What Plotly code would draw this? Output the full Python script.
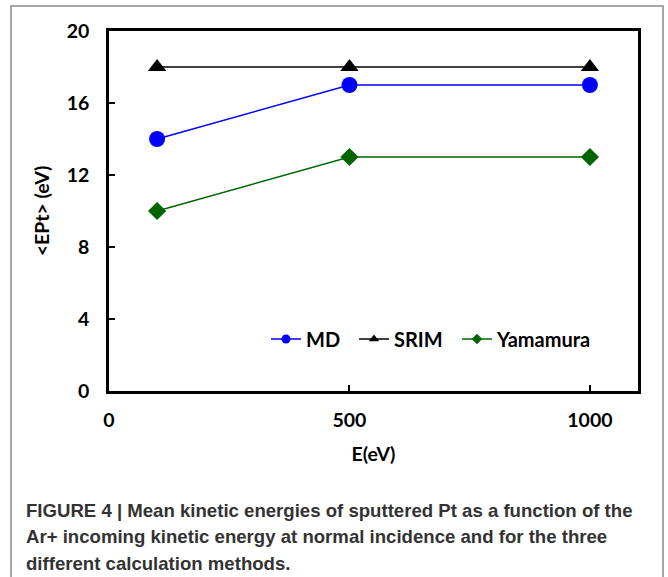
import plotly.graph_objects as go

energies = [100, 500, 1000]
md_values = [14, 17, 17]
srim_values = [18, 18, 18]
yamamura_values = [10, 13, 13]
x_ticks = [0, 500, 1000]
y_ticks = [0, 4, 8, 12, 16, 20]
caption_lines = [
    "FIGURE 4 | Mean kinetic energies of sputtered Pt as a function of the",
    "Ar+ incoming kinetic energy at normal incidence and for the three",
    "different calculation methods.",
]

FONT = "Lato, Carlito, Open Sans, sans-serif"

series = [
    ("MD", md_values, "#0000ff", "circle", 16, 9, "legend", 266),
    ("SRIM", srim_values, "#000000", "triangle-up", 16, 9, "legend2", 354),
    ("Yamamura", yamamura_values, "#006400", "diamond", 14, 8, "legend3", 457),
]

L, R, T, B = 109, 30, 31, 186
W, H = 668, 577
pw, ph = W - L - R, H - T - B

def px(x):
    return (x - L) / pw

def py(y):
    return (H - B - y) / ph

fig = go.Figure()
for name, vals, color, sym, size, lsize, leg, lx in series:
    fig.add_trace(go.Scatter(x=energies, y=vals, name=name, mode="lines+markers",
                             showlegend=False,
                             line=dict(color=color, width=1.5),
                             marker=dict(symbol=sym, size=size, color=color)))
legends = {}
for name, vals, color, sym, size, lsize, leg, lx in series:
    fig.add_trace(go.Scatter(x=[None], y=[None], name=name, mode="lines+markers",
                             showlegend=True, legend=leg,
                             line=dict(color=color, width=1.5),
                             marker=dict(symbol=sym, size=lsize, color=color)))
    legends[leg] = dict(orientation="h", x=px(lx), y=py(339), xanchor="left", yanchor="middle",
                        bgcolor="rgba(0,0,0,0)", font=dict(size=20, family=FONT, weight="bold"),
                        itemwidth=30)

fig.update_layout(
    width=W, height=H,
    margin=dict(l=L, r=R, t=T, b=B),
    paper_bgcolor="white", plot_bgcolor="white",
    font=dict(family=FONT, color="black", size=18),
    showlegend=True,
    xaxis=dict(range=[0, 1100], tickvals=x_ticks, ticks="inside", ticklen=6, tickwidth=2,
               tickcolor="black", showline=True, linecolor="black", linewidth=2.5,
               mirror=True, showgrid=False, zeroline=False, ticklabelstandoff=10,
               tickfont=dict(family=FONT, size=19.5, weight="bold"),
               title=dict(text="E(eV)", font=dict(family=FONT, size=19.5, weight="bold"), standoff=18)),
    yaxis=dict(range=[0, 20], tickvals=y_ticks, ticks="inside", ticklen=6, tickwidth=2,
               tickcolor="black", showline=True, linecolor="black", linewidth=2.5,
               mirror=True, showgrid=False, zeroline=False, ticklabelstandoff=13,
               tickfont=dict(family=FONT, size=19.5, weight="bold"),
               title=dict(text="&lt;EPt&gt; (eV)", font=dict(family=FONT, size=19.5, weight="bold"), standoff=12)),
    **legends,
)

# outer frame of the figure panel
fig.add_shape(type="rect", xref="paper", yref="paper",
              x0=px(11), x1=px(663), y0=py(600), y1=py(6),
              line=dict(color="#8a8a8a", width=1.5), fillcolor="rgba(0,0,0,0)", layer="below")

for i, line in enumerate(caption_lines):
    fig.add_annotation(text="<b>" + line + "</b>", xref="paper", yref="paper",
                       x=px(24), y=py(510 + i * 26.5), xanchor="left", yanchor="middle",
                       showarrow=False,
                       font=dict(family="Liberation Sans, Arial, sans-serif", size=18.6, color="#333333"))

fig.write_html("out.html", config={"displayModeBar": False},
               post_script="document.body.style.margin='0px';document.body.style.overflow='hidden';")
